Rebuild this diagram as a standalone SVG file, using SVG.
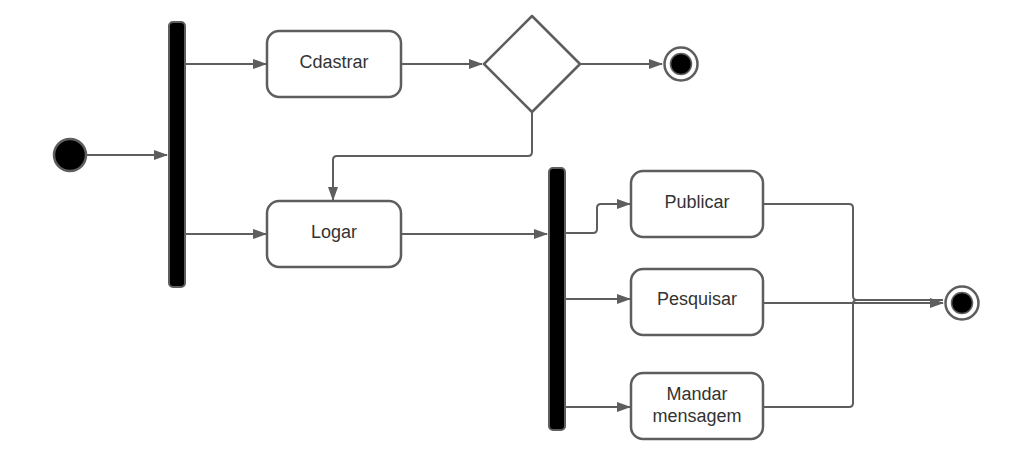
<svg xmlns="http://www.w3.org/2000/svg" width="1019" height="471" viewBox="0 0 1019 471">
<style>
.box{fill:#fff;stroke:#5e5e5e;stroke-width:2.5}
.bar{fill:#000;stroke:#5e5e5e;stroke-width:2}
.ln{fill:none;stroke:#5e5e5e;stroke-width:2}
.lbl{font-family:"Liberation Sans",Arial,sans-serif;font-size:18px;fill:#333;text-anchor:middle}
</style>
<defs>
<marker id="ar" markerWidth="14" markerHeight="10" refX="13" refY="5" orient="auto" markerUnits="userSpaceOnUse">
<path d="M0,0 L14,5 L0,10 Z" fill="#5e5e5e"/>
</marker>
</defs>
<rect width="1019" height="471" fill="#fff"/>
<g id="connectors">
<path class="ln" d="M86,155 H167" marker-end="url(#ar)"/>
<path class="ln" d="M186,64 H266" marker-end="url(#ar)"/>
<path class="ln" d="M186,234 H266" marker-end="url(#ar)"/>
<path class="ln" d="M401,64 H482" marker-end="url(#ar)"/>
<path class="ln" d="M581,64 H662" marker-end="url(#ar)"/>
<path class="ln" d="M532,112 V152 Q532,156 528,156 H337 Q333,156 333,160 V200" marker-end="url(#ar)"/>
<path class="ln" d="M401,234 H547" marker-end="url(#ar)"/>
<path class="ln" d="M566,233 H593 Q597,233 597,229 V208 Q597,204 601,204 H630" marker-end="url(#ar)"/>
<path class="ln" d="M566,299 H630" marker-end="url(#ar)"/>
<path class="ln" d="M566,407 H630" marker-end="url(#ar)"/>
<path class="ln" d="M763,204 H849 Q853,204 853,208 V296 Q853,300 857,300 H943"/>
<path class="ln" d="M763,407 H849 Q853,407 853,403 V304 Q853,300 857,300 H943"/>
<path class="ln" d="M763,303 H943" marker-end="url(#ar)"/>
</g>
<g id="start"><circle cx="70" cy="155" r="16" fill="#000" stroke="#5e5e5e" stroke-width="2.5"/></g>
<g id="fork1"><rect class="bar" x="169" y="22" width="16" height="265" rx="4"/></g>
<g id="cdastrar"><rect class="box" x="267" y="31" width="134" height="66" rx="12"/><text class="lbl" x="334" y="68">Cdastrar</text></g>
<g id="logar"><rect class="box" x="267" y="201" width="134" height="66" rx="12"/><text class="lbl" x="334" y="238">Logar</text></g>
<g id="decision"><path class="box" d="M532,16 L580,64 L532,112 L484,64 Z" stroke-linejoin="round"/></g>
<g id="end1"><circle cx="681" cy="64" r="16.5" fill="#fff" stroke="#5e5e5e" stroke-width="2.5"/><circle cx="681" cy="64" r="10.5" fill="#000" stroke="#5e5e5e" stroke-width="1.5"/></g>
<g id="fork2"><rect class="bar" x="549" y="168" width="16" height="262" rx="4"/></g>
<g id="publicar"><rect class="box" x="631" y="171" width="132" height="66" rx="12"/><text class="lbl" x="697" y="208">Publicar</text></g>
<g id="pesquisar"><rect class="box" x="631" y="269" width="132" height="66" rx="12"/><text class="lbl" x="697" y="305">Pesquisar</text></g>
<g id="mandar"><rect class="box" x="631" y="373" width="132" height="66" rx="12"/><text class="lbl" x="697" y="400">Mandar</text><text class="lbl" x="697" y="422">mensagem</text></g>
<g id="end2"><circle cx="962" cy="303" r="16.5" fill="#fff" stroke="#5e5e5e" stroke-width="2.5"/><circle cx="962" cy="303" r="10.5" fill="#000" stroke="#5e5e5e" stroke-width="1.5"/></g>
</svg>
